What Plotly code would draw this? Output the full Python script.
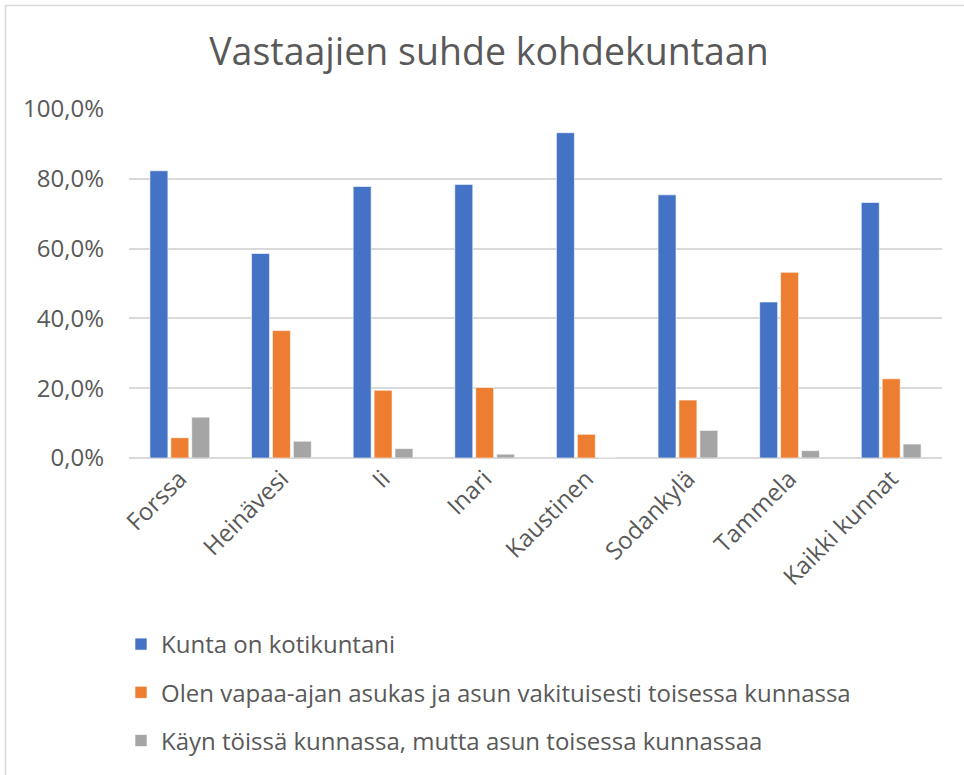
import plotly.graph_objects as go

categories = ["Forssa", "Heinävesi", "Ii", "Inari", "Kaustinen", "Sodankylä", "Tammela", "Kaikki kunnat"]
series_names = [
    "Kunta on kotikuntani",
    "Olen vapaa-ajan asukas ja asun vakituisesti toisessa kunnassa",
    "Käyn töissä kunnassa, mutta asun toisessa kunnassaa",
]
kotikunta = [0.823, 0.586, 0.778, 0.784, 0.932, 0.754, 0.447, 0.732]
vapaa_ajan = [0.058, 0.365, 0.194, 0.202, 0.068, 0.166, 0.532, 0.227]
tyossa = [0.117, 0.048, 0.027, 0.011, 0.0, 0.079, 0.021, 0.040]
colors = ["#4472C4", "#ED7D31", "#A5A5A5"]
y_ticks = [0, 0.2, 0.4, 0.6, 0.8, 1.0]
y_tick_labels = ["0,0%", "20,0%", "40,0%", "60,0%", "80,0%", "100,0%"]

W, H = 964, 775
ml, mr, mt, mb = 129, 22, 109, 317
pw, ph = W - ml - mr, H - mt - mb

fig = go.Figure()
for i, (name, vals) in enumerate(zip(series_names, [kotikunta, vapaa_ajan, tyossa])):
    fig.add_trace(go.Bar(
        x=categories, y=vals, name=name,
        marker=dict(color=colors[i], line=dict(color="white", width=0.6)),
        legendgroup=f"g{i}",
        hoverinfo="x+y+name",
    ))

font_family = "Open Sans"
txt = "#595959"

fig.update_layout(
    width=W, height=H,
    margin=dict(l=ml, r=mr, t=mt, b=mb, autoexpand=False),
    paper_bgcolor="white", plot_bgcolor="white",
    font=dict(family=font_family, color=txt, size=24),
    title=dict(text="Vastaajien suhde kohdekuntaan", x=489 / W, xanchor="center",
               y=1 - 52 / H, yanchor="middle",
               font=dict(family=font_family, size=37.5, color=txt)),
    barmode="group", bargap=0.383, bargroupgap=0.14,
    xaxis=dict(tickangle=-45, showgrid=False, showline=False, ticks="",
               ticklabelstandoff=1,
               tickfont=dict(family=font_family, size=24, color=txt)),
    yaxis=dict(range=[0, 1.0], tickvals=y_ticks, ticktext=y_tick_labels,
               showgrid=True, gridcolor="#D9D9D9", gridwidth=1.5,
               zeroline=True, zerolinecolor="#D9D9D9", zerolinewidth=1.5,
               showline=False, ticks="", ticklabelstandoff=24,
               tickfont=dict(family=font_family, size=24, color=txt)),
    legend=dict(orientation="v", x=(121 - ml) / pw, xanchor="left",
                y=(H - mb - 622) / ph, yanchor="top",
                tracegroupgap=14, traceorder="grouped",
                font=dict(family=font_family, size=24, color=txt),
                bgcolor="rgba(0,0,0,0)"),
    shapes=[dict(type="rect", xref="paper", yref="paper",
                 x0=(5.5 - ml) / pw, x1=(W + 10 - ml) / pw,
                 y0=(H - mb - (H + 10)) / ph, y1=(H - mb - 5.5) / ph,
                 line=dict(color="#D9D9D9", width=1.5), layer="below")],
)

fig.write_html("out.html", config={"displayModeBar": False},
               post_script="document.body.style.margin='0';")
